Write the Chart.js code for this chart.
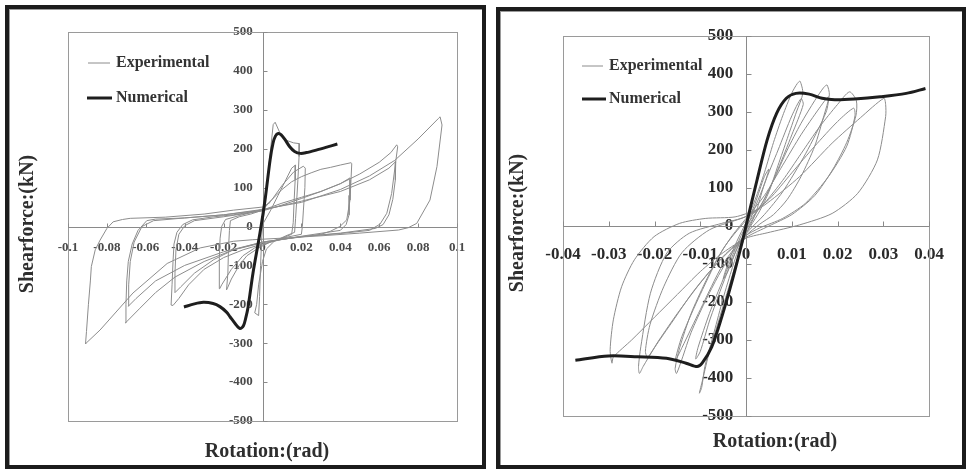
<!DOCTYPE html>
<html><head><meta charset="utf-8">
<script src="https://cdn.jsdelivr.net/npm/chart.js@4.4.1/dist/chart.umd.min.js"></script>
<style>
html,body{margin:0;padding:0;background:#fff;width:966px;height:469px;overflow:hidden;}
.panel{position:absolute;box-sizing:border-box;border:4px solid #1c1c1c;background:#fff;box-shadow:inset 1px 1px 0 #9a9a9a;}
#pL{left:5px;top:5px;width:481px;height:464px;}
#pR{left:496px;top:7px;width:470px;height:462px;}
canvas{display:block;}
</style></head><body>
<div class="panel" id="pL"><canvas id="cL" width="473" height="456" style="width:473px;height:456px"></canvas></div>
<div class="panel" id="pR"><canvas id="cR" width="462" height="454" style="width:462px;height:454px"></canvas></div>
<script>
// ---------- DATA ----------
const seriesNames = ['Experimental', 'Numerical'];
const xTitle = 'Rotation:(rad)';
const yTitle = 'Shearforce:(kN)';
const xTicksLeft = [-0.1, -0.08, -0.06, -0.04, -0.02, 0, 0.02, 0.04, 0.06, 0.08, 0.1];
const xTicksRight = [-0.04, -0.03, -0.02, -0.01, 0, 0.01, 0.02, 0.03, 0.04];
const yTicks = [-500, -400, -300, -200, -100, 0, 100, 200, 300, 400, 500];

// left chart, experimental hysteresis path [rotation, shear]
const expLeft = [
 [0,0],[0.002,90],[0.004,190],[0.0055,262],[0.0065,268],[0.009,240],[0.012,222],[0.016,215],[0.019,213],
 [0.0188,180],[0.0182,120],[0.0175,60],[0.017,20],[0.0165,-15],
 [0.012,-24],[0.006,-38],[0.002,-58],[0,-90],[-0.002,-150],[-0.003,-200],[-0.004,-222],[-0.002,-229],[-0.0015,-180],[-0.001,-100],[-0.0005,-40],[0,5],
 [0.004,40],[0.008,80],[0.012,120],[0.015,150],[0.017,158],[0.0168,120],[0.0162,60],[0.0158,10],[0.015,-20],
 [0.01,-30],[0.004,-40],[-0.002,-55],[-0.008,-75],[-0.012,-100],[-0.016,-135],[-0.018,-158],[-0.0185,-163],[-0.0178,-120],[-0.0175,-60],[-0.017,-10],[-0.0165,15],[-0.012,25],[-0.006,32],[0,42],
 [0.005,70],[0.01,105],[0.016,140],[0.021,155],[0.022,150],[0.0218,100],[0.021,40],[0.0205,0],[0.02,-20],
 [0.012,-28],[0.004,-40],[-0.004,-55],[-0.01,-75],[-0.016,-110],[-0.021,-150],[-0.022,-160],[-0.0222,-130],[-0.0222,-80],[-0.0218,-30],[-0.021,0],[-0.019,18],[-0.012,28],[-0.004,38],[0,45],
 [0.005,70],[0.01,95],[0.015,115],[0.02,128],[0.025,138],[0.03,147],[0.035,152],[0.04,158],[0.0455,164],[0.0459,162],[0.0455,120],[0.045,68],[0.0433,17],[0.0398,0],[0.035,-12],
 [0.03,-20],[0.02,-27],[0.01,-33],[0,-45],[-0.01,-60],[-0.02,-80],[-0.03,-110],[-0.038,-150],[-0.043,-185],[-0.046,-203],[-0.047,-202],[-0.0465,-150],[-0.046,-90],[-0.0455,-45],[-0.044,-15],[-0.041,5],[-0.036,17],[-0.025,25],[-0.015,30],[-0.005,38],[0,42],
 [0.01,60],[0.02,75],[0.03,90],[0.04,110],[0.045,125],[0.0448,80],[0.0445,30],[0.043,5],[0.04,-10],
 [0.02,-25],[0,-42],[-0.015,-60],[-0.025,-85],[-0.035,-120],[-0.042,-155],[-0.045,-170],[-0.045,-120],[-0.0445,-60],[-0.043,-20],[-0.04,2],[-0.035,15],[-0.02,25],[0,40],
 [0.01,55],[0.02,72],[0.03,90],[0.04,110],[0.05,135],[0.06,165],[0.066,190],[0.069,210],[0.0695,205],[0.0685,167],[0.0664,85],[0.0639,34],[0.0604,6],[0.055,-10],
 [0.04,-18],[0.02,-26],[0,-40],[-0.015,-60],[-0.03,-90],[-0.045,-130],[-0.055,-170],[-0.063,-210],[-0.0695,-243],[-0.0705,-248],[-0.0702,-200],[-0.0698,-140],[-0.069,-90],[-0.067,-45],[-0.064,-10],[-0.0595,15],[-0.055,19],[-0.04,22],[-0.02,30],[0,42],
 [0.02,65],[0.04,90],[0.055,120],[0.065,150],[0.0685,167],[0.0683,120],[0.067,70],[0.065,30],[0.062,5],[0.058,-5],
 [0.04,-17],[0.02,-26],[0,-40],[-0.02,-65],[-0.04,-100],[-0.055,-140],[-0.065,-185],[-0.069,-205],[-0.0688,-150],[-0.068,-90],[-0.066,-40],[-0.062,0],[-0.056,15],[-0.04,22],[-0.02,30],[0,44],
 [0.02,62],[0.04,95],[0.055,130],[0.068,170],[0.08,225],[0.0905,278],[0.0913,282],[0.0923,261],[0.0897,154],[0.0861,68],[0.0793,8],[0.075,-3],[0.07,-9],
 [0.05,-17],[0.03,-24],[0.01,-30],[-0.005,-34],[-0.015,-38],[-0.032,-55],[-0.049,-95],[-0.0666,-171],[-0.0835,-266],[-0.0907,-300],[-0.091,-302],[-0.0905,-270],[-0.0895,-200],[-0.0885,-140],[-0.088,-103],[-0.086,-60],[-0.0835,-35],[-0.08,-5],[-0.0768,12],[-0.072,18],[-0.068,21],[-0.05,24],[-0.03,32],[-0.015,42],[0,50],[0.004,62]
];
// left chart, numerical curve
const numLeft = [
 [-0.0404,-207],[-0.035,-199],[-0.0304,-195],[-0.0254,-198],[-0.0219,-206],[-0.0185,-220],[-0.0167,-232],[-0.014,-250],[-0.0116,-262],[-0.0098,-255],[-0.0086,-235],[-0.0074,-207],[-0.0049,-120],[-0.0013,-17],[0.0013,68],[0.0039,171],[0.0054,214],[0.0067,233],[0.0081,239],[0.0095,236],[0.0115,224],[0.014,205],[0.0165,193],[0.0195,188],[0.0225,190],[0.028,197],[0.033,204],[0.0385,212]
];
// right chart, experimental hysteresis path
const expRight = [
 [0,0],[0.002,60],[0.004,130],[0.005,150],[0.004,110],[0.002,50],[0,-10],[-0.002,-60],[-0.004,-120],[-0.005,-140],[-0.004,-100],[-0.002,-40],[0,10],
 [0.002,70],[0.004,140],[0.006,220],[0.008,290],[0.01,350],[0.0112,375],[0.0118,381],[0.0124,349],[0.011,300],[0.009,230],[0.007,160],[0.005,90],[0.003,40],[0.001,0],[-0.001,-40],[-0.003,-110],[-0.005,-190],[-0.007,-280],[-0.009,-370],[-0.0097,-425],[-0.0102,-440],[-0.0095,-405],[-0.008,-330],[-0.006,-250],[-0.004,-170],[-0.002,-90],[0,-20],[0.002,30],
 [0.004,110],[0.007,200],[0.01,290],[0.012,335],[0.0125,320],[0.01,240],[0.007,150],[0.004,70],[0.001,10],[-0.002,-60],[-0.005,-150],[-0.008,-250],[-0.01,-330],[-0.011,-350],[-0.0105,-320],[-0.008,-230],[-0.005,-140],[-0.002,-50],[0,0],
 [0.003,50],[0.006,120],[0.009,200],[0.012,270],[0.015,330],[0.017,365],[0.0177,371],[0.0182,345],[0.017,290],[0.015,210],[0.012,130],[0.009,70],[0.006,30],[0.003,5],[0,-25],[-0.003,-70],[-0.006,-130],[-0.009,-200],[-0.012,-280],[-0.014,-350],[-0.0152,-388],[-0.0155,-375],[-0.0145,-320],[-0.012,-230],[-0.009,-150],[-0.006,-80],[-0.003,-25],[0,20],
 [0.004,80],[0.008,160],[0.012,240],[0.016,310],[0.018,340],[0.0175,300],[0.013,190],[0.008,90],[0.004,30],[0,-20],[-0.005,-100],[-0.01,-220],[-0.014,-320],[-0.0155,-355],[-0.014,-290],[-0.01,-180],[-0.005,-60],[0,15],
 [0.004,60],[0.008,120],[0.012,190],[0.016,260],[0.02,320],[0.0226,353],[0.0241,330],[0.024,290],[0.022,220],[0.019,150],[0.015,80],[0.01,30],[0.005,0],[0,-30],[-0.004,-70],[-0.008,-120],[-0.012,-180],[-0.016,-250],[-0.02,-320],[-0.0225,-370],[-0.0233,-388],[-0.0235,-370],[-0.023,-318],[-0.0209,-177],[-0.0173,-71],[-0.0124,-19],[-0.0053,7],[0,25],
 [0.005,70],[0.01,140],[0.015,210],[0.02,275],[0.0235,310],[0.0238,290],[0.022,210],[0.018,130],[0.013,60],[0.008,20],[0.003,-5],[0,-25],[-0.005,-80],[-0.01,-150],[-0.015,-230],[-0.019,-300],[-0.0215,-345],[-0.022,-330],[-0.021,-260],[-0.018,-160],[-0.014,-70],[-0.008,-10],[0,25],
 [0.0046,60],[0.0117,130],[0.0188,218],[0.025,285],[0.0301,336],[0.0305,320],[0.0305,288],[0.0287,174],[0.0244,86],[0.0188,33],[0.0117,3],[0.0046,-18],[0,-32],[-0.005,-70],[-0.01,-120],[-0.015,-180],[-0.02,-240],[-0.025,-300],[-0.029,-345],[-0.0293,-361],[-0.0297,-326],[-0.029,-247],[-0.0272,-160],[-0.0244,-89],[-0.0201,-28],[-0.0145,7],[-0.0088,20],[-0.0024,24],[0.003,45]
];
// right chart, numerical curve
const numRight = [
 [-0.0373,-353],[-0.0301,-342],[-0.0237,-344],[-0.0174,-348],[-0.0131,-361],[-0.0107,-370],[-0.0096,-361],[-0.0075,-318],[-0.0053,-239],[-0.0032,-151],[-0.0011,-54],[0.0003,16],[0.0024,121],[0.0046,226],[0.0067,297],[0.0088,336],[0.0109,349],[0.0138,347],[0.0166,336],[0.0194,332],[0.0237,334],[0.0293,340],[0.035,349],[0.0392,362]
];

// ---------- CHART BUILDER ----------
const FONT = '"Liberation Serif", "Times New Roman", serif';
const toXY = arr => arr.map(p => ({x: p[0], y: p[1]}));

function decoPlugin(o) {
  return {
    id: 'deco',
    beforeDatasetsDraw(chart) {
      const {ctx, chartArea: a, scales: {x, y}} = chart;
      ctx.save();
      ctx.strokeStyle = '#9a9a9a';
      ctx.lineWidth = 1;
      ctx.strokeRect(Math.round(a.left) + 0.5, Math.round(a.top) + 0.5, Math.round(a.right - a.left), Math.round(a.bottom - a.top));
      const y0 = Math.round(y.getPixelForValue(0)) + 0.5;
      const x0 = Math.round(x.getPixelForValue(0)) + 0.5;
      ctx.strokeStyle = '#8a8a8a';
      ctx.beginPath();
      ctx.moveTo(a.left, y0); ctx.lineTo(a.right, y0);
      ctx.moveTo(x0, a.top); ctx.lineTo(x0, a.bottom);
      x.ticks.forEach(t => { const px = Math.round(x.getPixelForValue(t.value)) + 0.5; ctx.moveTo(px, y0); ctx.lineTo(px, y0 - o.tl); });
      y.ticks.forEach(t => { const py = Math.round(y.getPixelForValue(t.value)) + 0.5; ctx.moveTo(x0, py); ctx.lineTo(x0 + o.tl, py); });
      ctx.stroke();
      ctx.restore();
    },
    afterDraw(chart) {
      const ctx = chart.ctx;
      const ds = chart.data.datasets;
      ctx.save();
      // legend
      ctx.font = 'bold ' + o.legFont + 'px ' + FONT;
      ctx.textBaseline = 'middle';
      ctx.textAlign = 'left';
      o.leg.forEach((L, i) => {
        ctx.strokeStyle = ds[i].borderColor;
        ctx.lineWidth = ds[i].borderWidth;
        ctx.beginPath(); ctx.moveTo(L[0], L[2]); ctx.lineTo(L[1], L[2]); ctx.stroke();
        ctx.fillStyle = '#333';
        ctx.fillText(ds[i].label, o.legText, L[2]);
      });
      // axis titles
      ctx.font = 'bold ' + o.titleFont + 'px ' + FONT;
      ctx.fillStyle = '#2e2e2e';
      ctx.textAlign = 'center';
      ctx.fillText(xTitle, o.xt[0], o.xt[1]);
      ctx.translate(o.yt[0], o.yt[1]);
      ctx.rotate(-Math.PI / 2);
      ctx.fillText(yTitle, 0, 0);
      ctx.restore();
    }
  };
}

function build(id, exp, num, xTicks, o) {
  return new Chart(document.getElementById(id), {
    type: 'scatter',
    data: {
      datasets: [
        {label: seriesNames[0], data: toXY(exp), showLine: true, borderColor: '#8c8c8c', borderWidth: 1, pointRadius: 0, tension: o.expTension, order: 2},
        {label: seriesNames[1], data: toXY(num), showLine: true, borderColor: '#1e1e1e', borderWidth: 3, pointRadius: 0, tension: 0.3, order: 1}
      ]
    },
    options: {
      responsive: false, animation: false, events: [],
      layout: {padding: o.pad},
      plugins: {legend: {display: false}, tooltip: {enabled: false}, title: {display: false}},
      scales: {
        x: {
          type: 'linear', min: xTicks[0], max: xTicks[xTicks.length - 1], position: {y: 0},
          afterBuildTicks: s => { s.ticks = xTicks.map(v => ({value: v})); },
          grid: {display: false, drawTicks: false}, border: {display: false},
          ticks: {padding: o.xPad, autoSkip: false, maxRotation: 0, minRotation: 0, color: o.tickColor,
                  font: {family: FONT, weight: 'bold', size: o.tickFont}, callback: v => String(v)}
        },
        y: {
          type: 'linear', min: yTicks[0], max: yTicks[yTicks.length - 1], position: {x: 0},
          afterBuildTicks: s => { s.ticks = yTicks.map(v => ({value: v})); },
          grid: {display: false, drawTicks: false}, border: {display: false},
          ticks: {autoSkip: false, color: o.tickColor,
                  font: {family: FONT, weight: 'bold', size: o.tickFont}, callback: v => String(v) + o.ySpace}
        }
      }
    },
    plugins: [decoPlugin(o)]
  });
}

build('cL', expLeft, numLeft, xTicksLeft, {
  pad: {left: 59, top: 23, right: 25, bottom: 44},
  expTension: 0, xPad: 13, tickFont: 13, tickColor: '#4a4a4a', ySpace: '   ', tl: 4,
  legFont: 16, leg: [[79, 101, 54], [78, 103, 89]], legText: 107,
  titleFont: 20, xt: [258, 443], yt: [19, 215]
});
build('cR', expRight, numRight, xTicksRight, {
  pad: {left: 63, top: 25, right: 22, bottom: 49},
  expTension: 0.25, xPad: 18, tickFont: 17, tickColor: '#2a2a2a', ySpace: '   ', tl: 5,
  legFont: 16, leg: [[82, 103, 55], [82, 106, 88]], legText: 109,
  titleFont: 20, xt: [275, 431], yt: [18, 212]
});
</script>
</body></html>
